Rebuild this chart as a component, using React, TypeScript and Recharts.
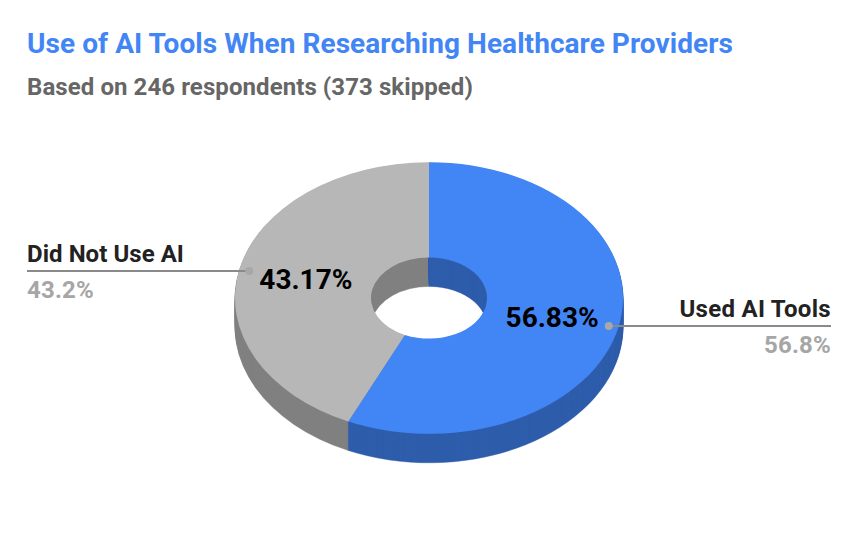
import { Pie, PieChart } from 'recharts';
import type { ReactElement } from 'react';

const CATEGORIES = ['Used AI Tools', 'Did Not Use AI'];
const VALUES = [56.83, 43.17];
const SHORT_LABELS = ['56.8%', '43.2%'];
const VALUE_LABELS = ['56.83%', '43.17%'];

const TOP_COLORS = ['#4285f4', '#b7b7b7'];
const SIDE_COLORS = ['#2e5dab', '#808080'];

const WIDTH = 858;
const HEIGHT = 534;
const CX = 429;
const CY = 298;
const SQUASH = 0.7;
const DEPTH = 29;
const FONT = 'Roboto, sans-serif';

// left side first so the blue wall ends up on top of the grey one
const sideData = [1, 0].map((i) => ({ name: CATEGORIES[i], value: VALUES[i], fill: SIDE_COLORS[i] }));
const topData = CATEGORIES.map((name, i) => ({ name, value: VALUES[i], fill: TOP_COLORS[i], index: i }));

function arcPath(p: any) {
  const toXY = (r: number, deg: number) => {
    const a = (deg * Math.PI) / 180;
    return [p.cx + r * Math.cos(a), p.cy - r * Math.sin(a)];
  };
  const sweep = p.endAngle < p.startAngle ? 1 : 0;
  const large = Math.abs(p.endAngle - p.startAngle) > 180 ? 1 : 0;
  const [ox0, oy0] = toXY(p.outerRadius, p.startAngle);
  const [ox1, oy1] = toXY(p.outerRadius, p.endAngle);
  const [ix0, iy0] = toXY(p.innerRadius, p.startAngle);
  const [ix1, iy1] = toXY(p.innerRadius, p.endAngle);
  return (
    `M${ox0},${oy0}A${p.outerRadius},${p.outerRadius} 0 ${large} ${sweep} ${ox1},${oy1}` +
    `L${ix1},${iy1}A${p.innerRadius},${p.innerRadius} 0 ${large} ${1 - sweep} ${ix0},${iy0}Z`
  );
}

const squash = (cx: number, cy: number, dy = 0) =>
  `translate(${cx} ${cy + dy}) scale(1 ${SQUASH}) translate(${-cx} ${-cy})`;

function TopSlice(props: any) {
  return <path d={arcPath(props)} fill={props.fill} transform={squash(props.cx, props.cy)} />;
}

function SideSlice(props: any) {
  const layers: ReactElement[] = [];
  for (let dy = DEPTH; dy > 0; dy--) {
    layers.push(
      <path key={dy} d={arcPath(props)} fill={props.fill} stroke={props.fill} strokeWidth={0.5} transform={squash(props.cx, props.cy, dy)} />,
    );
  }
  return <g>{layers}</g>;
}

function SliceLabel(props: any) {
  const i = props.index;
  const a = (props.midAngle * Math.PI) / 180;
  const at = (r: number) => [props.cx + r * Math.cos(a), props.cy - r * Math.sin(a) * SQUASH];
  const [dotX, dotRawY] = at(184);
  const dotY = dotRawY + 0.5;
  const [valX, valY] = at(126);
  const right = i === 0;
  const endX = right ? 831 : 27;
  const anchor = right ? 'end' : 'start';
  return (
    <g fontFamily={FONT}>
      <line x1={dotX} y1={dotY} x2={endX} y2={dotY} stroke="#8a8a8a" strokeWidth={2} />
      <circle cx={dotX} cy={dotY} r={4} fill="#a8a8a8" />
      <text x={endX} y={dotY - 9} textAnchor={anchor} fontSize={24} fontWeight={700} fill="#222222" letterSpacing={right ? 0.3 : 0.05}>
        {CATEGORIES[i]}
      </text>
      <text x={endX} y={dotY + 27} textAnchor={anchor} fontSize={24} fontWeight={700} fill="#a6a6a6" letterSpacing={0.2}>
        {SHORT_LABELS[i]}
      </text>
      <text x={valX} y={valY + 10} textAnchor="middle" fontSize={28} fontWeight={700} fill="#000000">
        {VALUE_LABELS[i]}
      </text>
    </g>
  );
}

export default function App() {
  return (
    <div style={{ position: 'absolute', left: 0, top: 0, width: WIDTH, height: HEIGHT, background: '#fff', fontFamily: FONT }}>
      <div style={{ position: 'absolute', left: 27, top: 27, fontSize: 28, lineHeight: '34px', fontWeight: 700, letterSpacing: 0.06, color: '#4285f4', whiteSpace: 'nowrap' }}>
        Use of AI Tools When Researching Healthcare Providers
      </div>
      <div style={{ position: 'absolute', left: 27, top: 72, fontSize: 24, lineHeight: '30px', fontWeight: 700, letterSpacing: 0.08, color: '#666666', whiteSpace: 'nowrap' }}>
        Based on 246 respondents (373 skipped)
      </div>
      <PieChart width={WIDTH} height={HEIGHT} margin={{ top: 0, right: 0, bottom: 0, left: 0 }}>
        <Pie
          data={sideData}
          dataKey="value"
          cx={CX}
          cy={CY}
          innerRadius={58}
          outerRadius={194}
          startAngle={90}
          endAngle={450}
          stroke="none"
          shape={SideSlice}
          isAnimationActive={false}
        />
        <Pie
          data={topData}
          dataKey="value"
          cx={CX}
          cy={CY}
          innerRadius={58}
          outerRadius={194}
          startAngle={90}
          endAngle={-270}
          stroke="none"
          shape={TopSlice}
          label={SliceLabel}
          labelLine={false}
          isAnimationActive={false}
        />
      </PieChart>
    </div>
  );
}
